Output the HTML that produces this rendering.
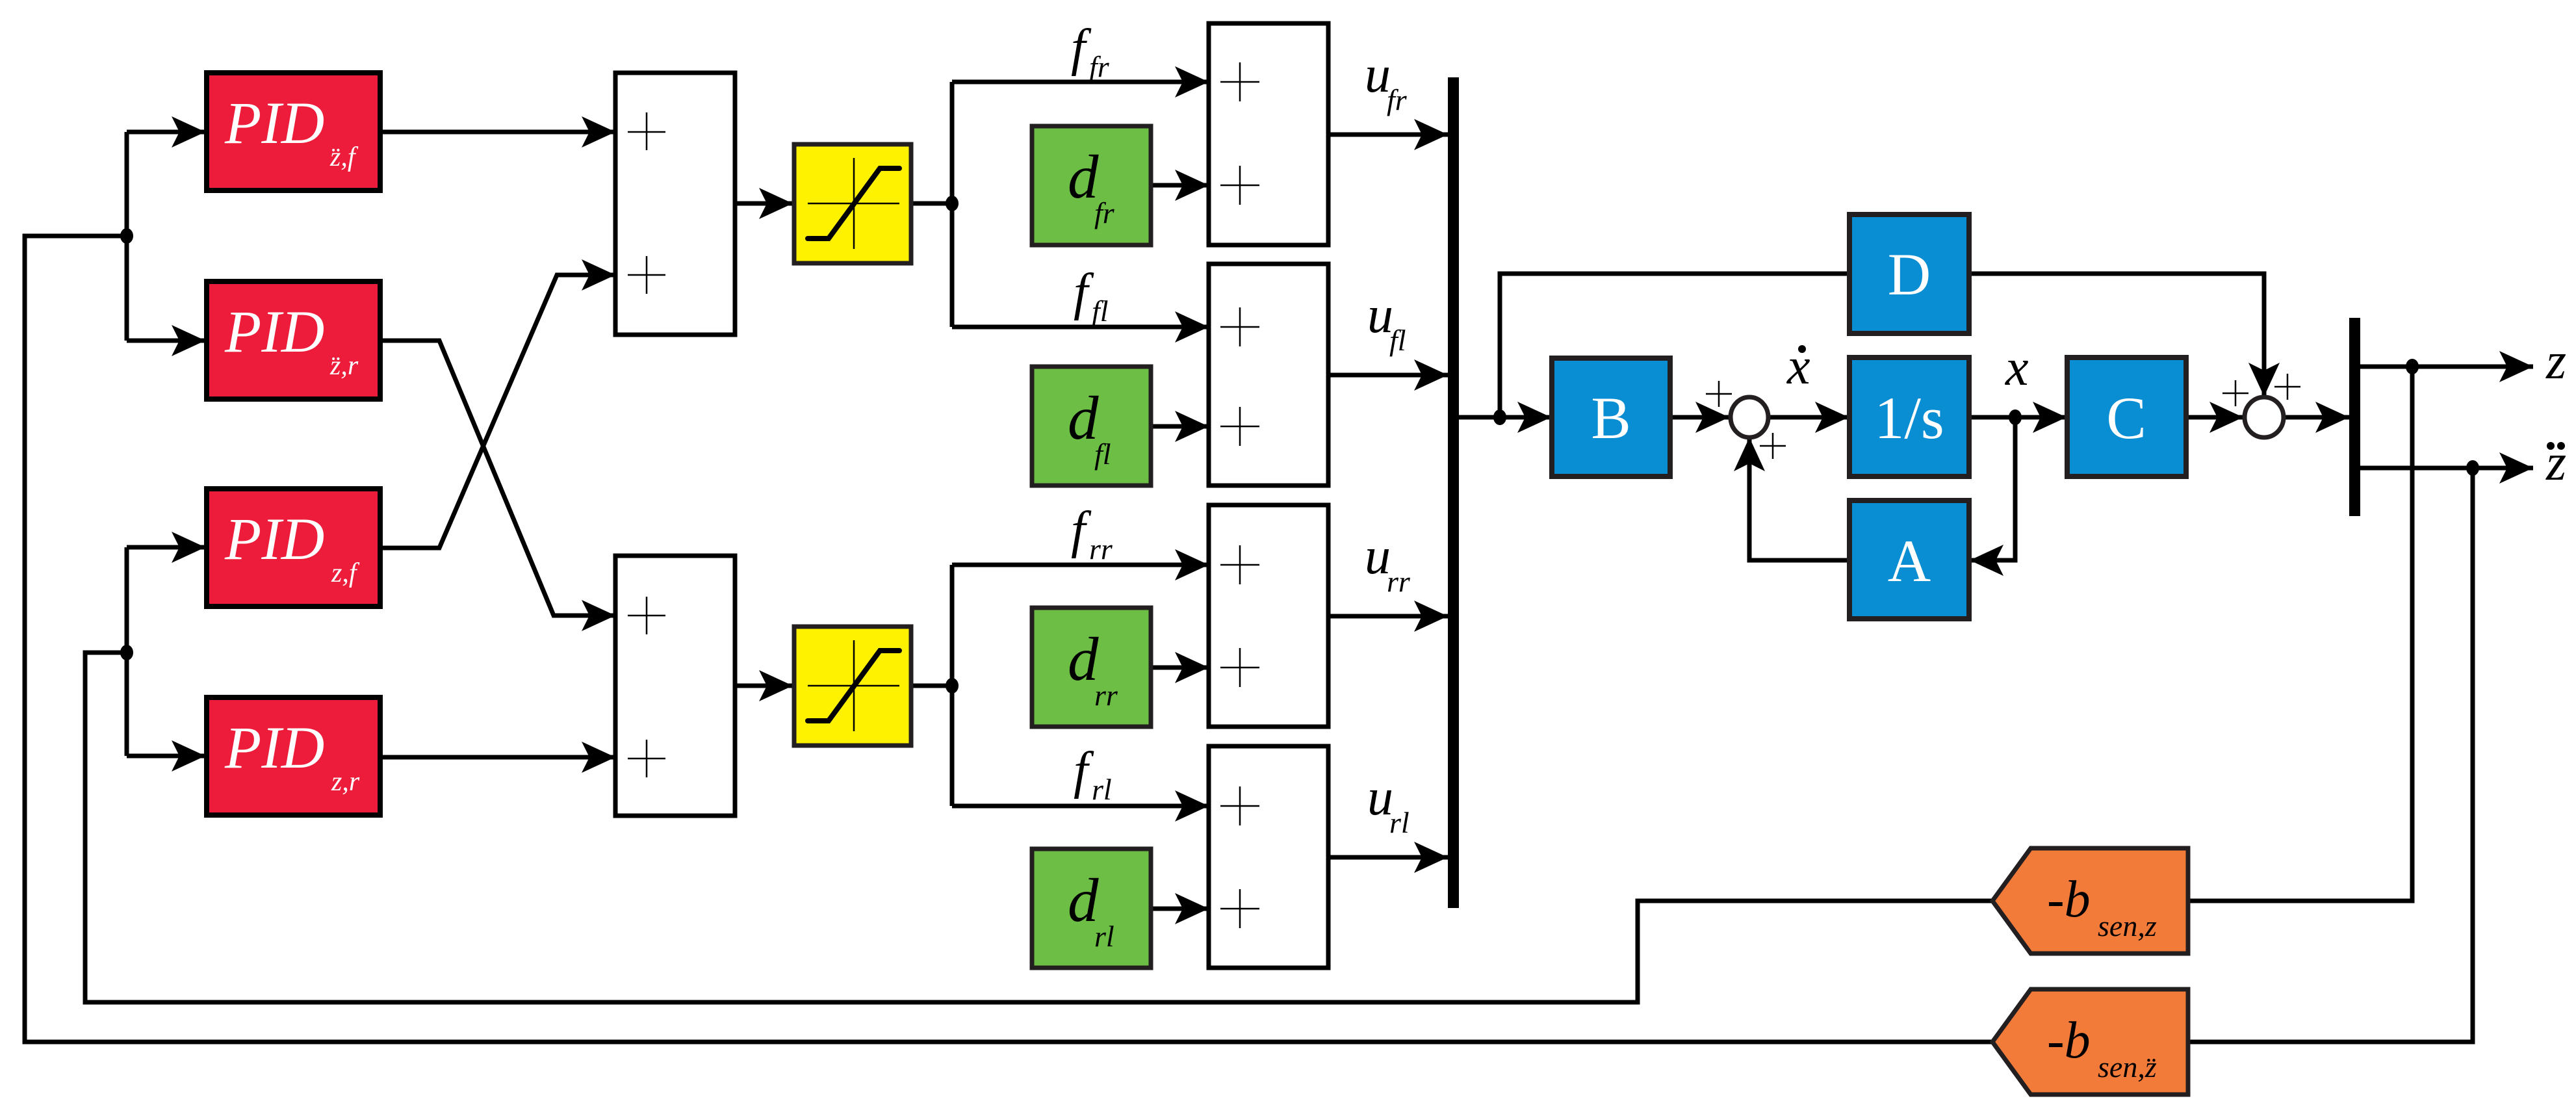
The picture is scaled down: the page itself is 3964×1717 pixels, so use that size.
<!DOCTYPE html>
<html><head><meta charset="utf-8"><style>
html,body{margin:0;padding:0;background:#fff;}
svg{display:block;font-family:"Liberation Serif",serif;}
text{font-family:"Liberation Serif",serif;}
.it{font-style:italic;}
</style></head><body>
<svg width="3964" height="1717" viewBox="0 0 3964 1717" xmlns="http://www.w3.org/2000/svg" font-family="Liberation Serif, serif">
<defs>
<marker id="a" markerUnits="userSpaceOnUse" viewBox="-52 -26 54 52" refX="0" refY="0" markerWidth="54" markerHeight="52" orient="auto">
<path d="M0,0 L-52,-24 L-40,0 L-52,24 Z" fill="#000"/>
</marker>
</defs>
<g fill="none" stroke="#000" stroke-width="7" stroke-linejoin="miter">
<path d="M195,363 H38 V1603 H3066"/>
<path d="M195,203 V524"/>
<path d="M195,203 H316" marker-end="url(#a)"/>
<path d="M195,524 H316" marker-end="url(#a)"/>
<path d="M195,1004 H131 V1542 H2520 V1386 H3066"/>
<path d="M195,842 V1163"/>
<path d="M195,842 H316" marker-end="url(#a)"/>
<path d="M195,1163 H316" marker-end="url(#a)"/>
<path d="M586,203 H947" marker-end="url(#a)"/>
<path d="M586,524 H676 L852,947 H947" marker-end="url(#a)"/>
<path d="M586,843 H676 L857,423 H947" marker-end="url(#a)"/>
<path d="M586,1165 H947" marker-end="url(#a)"/>
<path d="M1131,313 H1220" marker-end="url(#a)"/>
<path d="M1131,1055 H1220" marker-end="url(#a)"/>
<path d="M1403,313 H1465 M1465,126 V503"/>
<path d="M1465,126 H1860" marker-end="url(#a)"/>
<path d="M1465,503 H1860" marker-end="url(#a)"/>
<path d="M1403,1055 H1465 M1465,869 V1240"/>
<path d="M1465,869 H1860" marker-end="url(#a)"/>
<path d="M1465,1240 H1860" marker-end="url(#a)"/>
<path d="M1771,285 H1860" marker-end="url(#a)"/>
<path d="M1771,656 H1860" marker-end="url(#a)"/>
<path d="M1771,1027 H1860" marker-end="url(#a)"/>
<path d="M1771,1398 H1860" marker-end="url(#a)"/>
<path d="M2044,207 H2228" marker-end="url(#a)"/>
<path d="M2044,577 H2228" marker-end="url(#a)"/>
<path d="M2044,948 H2228" marker-end="url(#a)"/>
<path d="M2044,1319 H2228" marker-end="url(#a)"/>
<path d="M2244,642 H2387" marker-end="url(#a)"/>
<path d="M2308,642 V421 H2845"/>
<path d="M3031,421 H3484 V610" marker-end="url(#a)"/>
<path d="M2570,642 H2661" marker-end="url(#a)"/>
<path d="M2723,642 H2845" marker-end="url(#a)"/>
<path d="M3031,642 H3180" marker-end="url(#a)"/>
<path d="M3101,642 V862 H3031" marker-end="url(#a)"/>
<path d="M2845,862 H2692 V673" marker-end="url(#a)"/>
<path d="M3364,642 H3452" marker-end="url(#a)"/>
<path d="M3516,642 H3615" marker-end="url(#a)"/>
<path d="M3631,564 H3898" marker-end="url(#a)"/>
<path d="M3631,720 H3898" marker-end="url(#a)"/>
<path d="M3712,564 V1386 H3367"/>
<path d="M3805,720 V1603 H3367"/>
</g>
<g fill="#000">
<ellipse cx="195" cy="363" rx="10" ry="12"/>
<ellipse cx="195" cy="1004" rx="10" ry="12"/>
<ellipse cx="1465" cy="313" rx="10" ry="12"/>
<ellipse cx="1465" cy="1055" rx="10" ry="12"/>
<ellipse cx="2308" cy="642" rx="10" ry="12"/>
<ellipse cx="3101" cy="642" rx="10" ry="12"/>
<ellipse cx="3712" cy="564" rx="10" ry="12"/>
<ellipse cx="3805" cy="720" rx="10" ry="12"/>
<rect x="2228" y="119" width="17" height="1278"/>
<rect x="3615" y="489" width="17" height="305"/>
</g>
<g fill="#ED1C3A" stroke="#000" stroke-width="8">
<rect x="318" y="112" width="267" height="181"/>
<rect x="318" y="433" width="267" height="181"/>
<rect x="318" y="752" width="267" height="181"/>
<rect x="318" y="1073" width="267" height="181"/>
</g>
<g fill="#fff">
<text x="346" y="220" font-size="92" class="it">PID</text><text x="508" y="255" font-size="42" class="it">z̈,f</text>
<text x="346" y="541" font-size="92" class="it">PID</text><text x="508" y="576" font-size="42" class="it">z̈,r</text>
<text x="346" y="860" font-size="92" class="it">PID</text><text x="510" y="895" font-size="42" class="it">z,f</text>
<text x="346" y="1181" font-size="92" class="it">PID</text><text x="510" y="1216" font-size="42" class="it">z,r</text>
</g>
<g fill="#fff" stroke="#000" stroke-width="7">
<rect x="947" y="112" width="184" height="403"/>
<rect x="947" y="855" width="184" height="400"/>
<rect x="1860" y="36" width="184" height="341"/>
<rect x="1860" y="406" width="184" height="341"/>
<rect x="1860" y="777" width="184" height="341"/>
<rect x="1860" y="1148" width="184" height="341"/>
</g>
<g stroke="#000" stroke-width="2.5">
<path d="M966,203 H1024 M995,173 V231 M966,423 H1024 M995,394 V452"/>
<path d="M966,947 H1024 M995,918 V976 M966,1167 H1024 M995,1138 V1196"/>
<path d="M1878,126 H1938 M1908,96 V156 M1878,285 H1938 M1908,255 V315"/>
<path d="M1878,503 H1938 M1908,473 V533 M1878,656 H1938 M1908,626 V686"/>
<path d="M1878,869 H1938 M1908,839 V899 M1878,1027 H1938 M1908,997 V1057"/>
<path d="M1878,1240 H1938 M1908,1210 V1270 M1878,1398 H1938 M1908,1368 V1428"/>
</g>
<g>
<rect x="1222" y="222" width="180" height="183" fill="#FFF200" stroke="#231F20" stroke-width="7"/>
<path d="M1243,313 H1384 M1314,243 V383" stroke="#000" stroke-width="2.5"/>
<path d="M1243,367 H1275 L1354,259 H1384" fill="none" stroke="#000" stroke-width="8" stroke-linecap="round"/>
<rect x="1222" y="964" width="180" height="183" fill="#FFF200" stroke="#231F20" stroke-width="7"/>
<path d="M1243,1055 H1384 M1314,985 V1125" stroke="#000" stroke-width="2.5"/>
<path d="M1243,1109 H1275 L1354,1001 H1384" fill="none" stroke="#000" stroke-width="8" stroke-linecap="round"/>
</g>
<g fill="#6DBE45" stroke="#231F20" stroke-width="7">
<rect x="1588" y="194" width="183" height="183"/>
<rect x="1588" y="564" width="183" height="183"/>
<rect x="1588" y="935" width="183" height="183"/>
<rect x="1588" y="1306" width="183" height="183"/>
</g>
<g fill="#000">
<text x="1643" y="304" font-size="95" class="it">d</text><text x="1684" y="343" font-size="46" class="it">fr</text>
<text x="1643" y="675" font-size="95" class="it">d</text><text x="1684" y="714" font-size="46" class="it">fl</text>
<text x="1643" y="1046" font-size="95" class="it">d</text><text x="1684" y="1085" font-size="46" class="it">rr</text>
<text x="1643" y="1417" font-size="95" class="it">d</text><text x="1684" y="1456" font-size="46" class="it">rl</text>
<text x="1648" y="100" font-size="80" class="it">f</text><text x="1676" y="118" font-size="46" class="it">fr</text>
<text x="1652" y="476" font-size="80" class="it">f</text><text x="1680" y="494" font-size="46" class="it">fl</text>
<text x="1648" y="842" font-size="80" class="it">f</text><text x="1676" y="860" font-size="46" class="it">rr</text>
<text x="1652" y="1212" font-size="80" class="it">f</text><text x="1680" y="1230" font-size="46" class="it">rl</text>
<text x="2100" y="141" font-size="80" class="it">u</text><text x="2134" y="169" font-size="46" class="it">fr</text>
<text x="2104" y="511" font-size="80" class="it">u</text><text x="2138" y="539" font-size="46" class="it">fl</text>
<text x="2100" y="882" font-size="80" class="it">u</text><text x="2134" y="910" font-size="46" class="it">rr</text>
<text x="2104" y="1253" font-size="80" class="it">u</text><text x="2138" y="1281" font-size="46" class="it">rl</text>
<text x="2750" y="590" font-size="80" class="it">x</text>
<circle cx="2773" cy="537" r="6"/>
<text x="3086" y="592" font-size="80" class="it">x</text>
<text x="3918" y="582" font-size="80" class="it">z</text>
<text x="3918" y="738" font-size="80" class="it">z</text>
<circle cx="3925" cy="686" r="6"/><circle cx="3941" cy="686" r="6"/>
</g>
<g fill="#0A8ED3" stroke="#231F20" stroke-width="8">
<rect x="2388" y="551" width="182" height="182"/>
<rect x="2846" y="330" width="184" height="183"/>
<rect x="2846" y="550" width="184" height="183"/>
<rect x="2846" y="770" width="184" height="182"/>
<rect x="3181" y="550" width="183" height="183"/>
</g>
<g fill="#fff" font-size="92" text-anchor="middle">
<text x="2479" y="674">B</text>
<text x="2938" y="453">D</text>
<text x="2938" y="674">1/s</text>
<text x="2938" y="894">A</text>
<text x="3272" y="674">C</text>
</g>
<g fill="#fff" stroke="#231F20" stroke-width="7">
<ellipse cx="2692" cy="642" rx="29" ry="31"/>
<ellipse cx="3484" cy="642" rx="30" ry="31"/>
</g>
<g stroke="#000" stroke-width="2.5">
<path d="M2625,606 H2665 M2645,586 V626 M2708,686 H2748 M2728,666 V706"/>
<path d="M3420,605 H3460 M3440,585 V625 M3500,595 H3540 M3520,575 V615"/>
</g>
<g fill="#F37B3A" stroke="#231F20" stroke-width="7">
<polygon points="3066,1386 3125,1305 3367,1305 3367,1467 3125,1467"/>
<polygon points="3066,1603 3125,1522 3367,1522 3367,1684 3125,1684"/>
</g>
<g fill="#000">
<text x="3150" y="1410" font-size="80" class="it">-b</text><text x="3228" y="1440" font-size="46" class="it">sen,z</text>
<text x="3150" y="1627" font-size="80" class="it">-b</text><text x="3228" y="1657" font-size="46" class="it">sen,z̈</text>
</g>
</svg>
</body></html>
